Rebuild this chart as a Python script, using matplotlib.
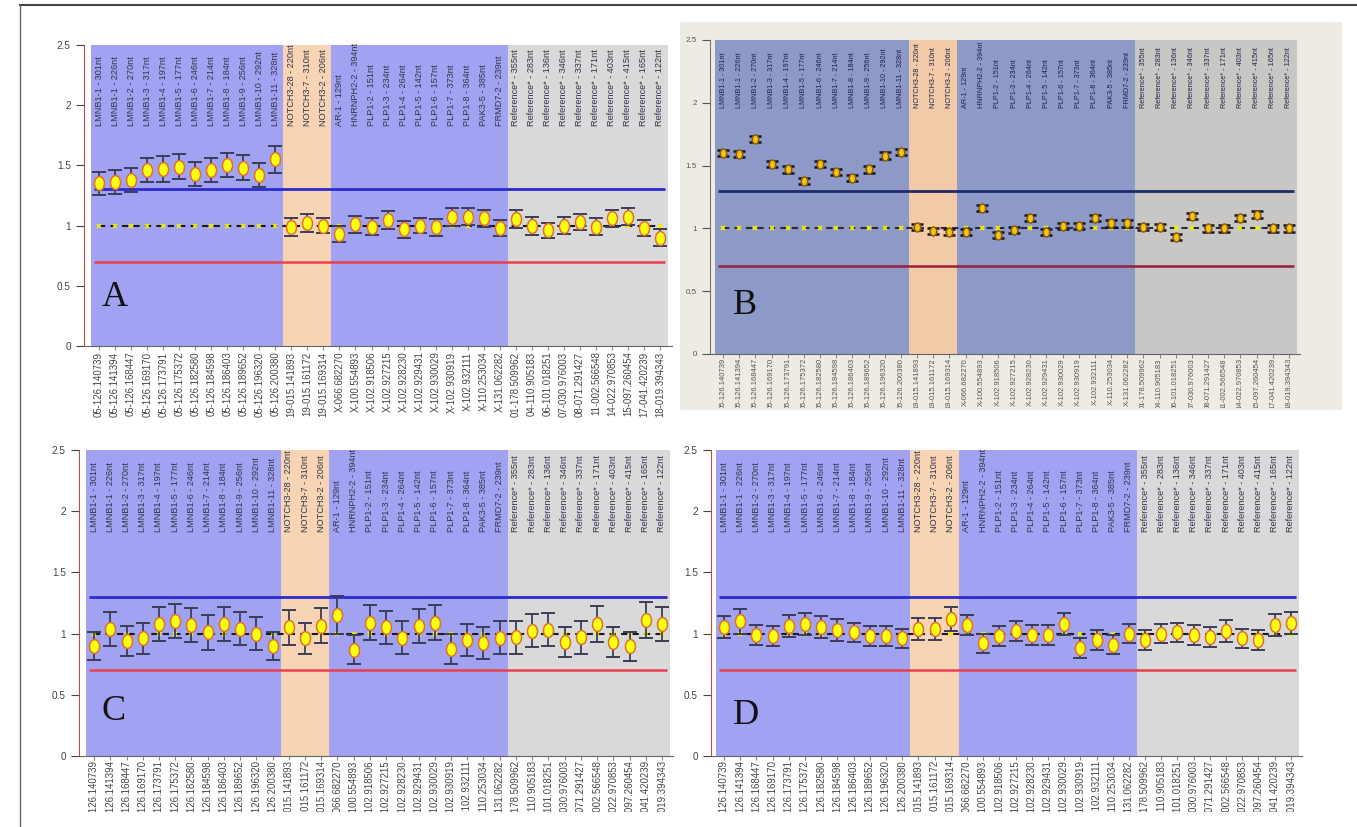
import numpy as np
import matplotlib.pyplot as plt
from matplotlib.path import Path
from matplotlib.lines import Line2D
from matplotlib.patches import Rectangle
from matplotlib.transforms import Bbox, TransformedBbox, blended_transform_factory, offset_copy

plt.rcParams['font.family'] = ['Liberation Sans', 'DejaVu Sans']

#Categories
#----------
genes = ['LMNB1-1 - 301nt', 'LMNB1-1 - 226nt', 'LMNB1-2 - 270nt', 'LMNB1-3 - 317nt',
         'LMNB1-4 - 197nt', 'LMNB1-5 - 177nt', 'LMNB1-6 - 246nt', 'LMNB1-7 - 214nt',
         'LMNB1-8 - 184nt', 'LMNB1-9 - 256nt', 'LMNB1-10 - 292nt', 'LMNB1-11 - 328nt',
         'NOTCH3-28 - 220nt', 'NOTCH3-7 - 310nt', 'NOTCH3-2 - 206nt',
         'AR-1 - 129nt', 'HNRNPH2-2 - 394nt', 'PLP1-2 - 151nt', 'PLP1-3 - 234nt',
         'PLP1-4 - 264nt', 'PLP1-5 - 142nt', 'PLP1-6 - 157nt', 'PLP1-7 - 373nt',
         'PLP1-8 - 364nt', 'PAK3-5 - 385nt', 'FRMD7-2 - 239nt',
         'Reference* - 355nt', 'Reference* - 283nt', 'Reference* - 136nt',
         'Reference* - 346nt', 'Reference* - 337nt', 'Reference* - 171nt',
         'Reference* - 403nt', 'Reference* - 415nt', 'Reference* - 165nt',
         'Reference* - 122nt']
loci = ['05-126.140739', '05-126.141394', '05-126.168447', '05-126.169170',
        '05-126.173791', '05-126.175372', '05-126.182580', '05-126.184598',
        '05-126.186403', '05-126.189652', '05-126.196320', '05-126.200380',
        '19-015.141893', '19-015.161172', '19-015.169314',
        'X-066.682270', 'X-100.554893', 'X-102.918506', 'X-102.927215',
        'X-102.928230', 'X-102.929431', 'X-102.930029', 'X-102.930919',
        'X-102.932111', 'X-110.253034', 'X-131.062282',
        '01-178.509962', '04-110.905183', '06-101.018251', '07-030.976003',
        '08-071.291427', '11-002.566548', '14-022.970853', '15-097.260454',
        '17-041.420239', '18-019.394343']
group_sizes = [12, 3, 11, 10]   # LMNB1 / NOTCH3 / X-linked / references
group_band = [0, 1, 0, 2]       # which band colour each group gets

baseline = 1.0
upper_cut = 1.3
lower_cut = 0.7
yticks = [0, 0.5, 1, 1.5, 2, 2.5]
ytick_labels = ['0', '0.5', '1', '1.5', '2', '2.5']

#Ratios
#-------------------------------
vals_a = [1.35, 1.36, 1.38, 1.46, 1.47, 1.49, 1.43, 1.46, 1.50, 1.48, 1.42, 1.55,
          0.99, 1.02, 1.00,
          0.93, 1.01, 0.99, 1.05, 0.97, 1.00, 0.985, 1.07, 1.075, 1.06, 0.98,
          1.055, 1.00, 0.96, 1.00, 1.03, 0.99, 1.06, 1.075, 0.98, 0.90]
err_a = [0.095, 0.10, 0.10, 0.10, 0.11, 0.105, 0.10, 0.10, 0.10, 0.105, 0.10, 0.11,
         0.075, 0.075, 0.065,
         0.07, 0.07, 0.07, 0.075, 0.07, 0.065, 0.07, 0.075, 0.07, 0.07, 0.07,
         0.075, 0.075, 0.065, 0.07, 0.07, 0.07, 0.07, 0.07, 0.07, 0.07]

vals_b = [1.60, 1.59, 1.71, 1.51, 1.47, 1.38, 1.51, 1.45, 1.40, 1.47, 1.58, 1.61,
          1.01, 0.98, 0.97,
          0.97, 1.16, 0.95, 0.99, 1.08, 0.97, 1.02, 1.02, 1.08, 1.04, 1.04,
          1.01, 1.01, 0.93, 1.10, 1.00, 1.00, 1.08, 1.11, 1.00, 1.00]
err_b = [0.025] * 36

vals_c = [0.90, 1.04, 0.94, 0.96, 1.08, 1.10, 1.07, 1.01, 1.08, 1.04, 1.00, 0.90,
          1.05, 0.96, 1.065,
          1.155, 0.87, 1.09, 1.05, 0.965, 1.065, 1.09, 0.875, 0.95, 0.92, 0.965,
          0.97, 1.025, 1.03, 0.93, 0.97, 1.08, 0.93, 0.895, 1.11, 1.08]
err_c = [0.115, 0.14, 0.12, 0.13, 0.14, 0.14, 0.14, 0.14, 0.14, 0.135, 0.135, 0.115,
         0.14, 0.13, 0.145,
         0.155, 0.12, 0.145, 0.135, 0.135, 0.14, 0.14, 0.12, 0.13, 0.13, 0.135,
         0.135, 0.135, 0.135, 0.125, 0.135, 0.145, 0.125, 0.115, 0.15, 0.14]

vals_d = [1.05, 1.10, 0.99, 0.98, 1.06, 1.08, 1.05, 1.03, 1.01, 0.98, 0.98, 0.96,
          1.04, 1.04, 1.12,
          1.07, 0.92, 0.98, 1.02, 0.99, 0.99, 1.08, 0.88, 0.95, 0.91, 1.00,
          0.95, 1.00, 1.01, 0.99, 0.97, 1.02, 0.96, 0.95, 1.07, 1.09]
err_d = [0.09, 0.10, 0.08, 0.08, 0.09, 0.09, 0.09, 0.09, 0.08, 0.08, 0.08, 0.08,
         0.09, 0.09, 0.10,
         0.08, 0.08, 0.08, 0.08, 0.08, 0.08, 0.09, 0.08, 0.08, 0.08, 0.08,
         0.08, 0.08, 0.08, 0.08, 0.08, 0.09, 0.08, 0.08, 0.09, 0.09]

#Styles
#------
screen = dict(bands=['#a2a2f2', '#f6d4b4', '#d9d9d9'], hi='#2b2bd0', lo='#e8404f',
              dash='#1a1a22', ecol='#3c3c58', mfc='#ffff10', mec='#e0702a', ms=10,
              cap=5, lab='#33334a', fs=6.6, tick='#444444', spine='#b05050', capw=1.4)
photo = dict(bands=['#8d99c6', '#f2caa8', '#c9c7c5'], hi='#1f2a6a', lo='#9a1f3a',
             dash='#2a2a40', ecol='#151520', mfc='#f2c414', mec='#8a5a10', ms=6.5,
             cap=4.5, lab='#1e2248', fs=5.2, tick='#555555', spine='#777777', capw=1.8)

W, H = 1357, 827
fig = plt.figure(figsize=(W / 100, H / 100), dpi=100)
fig.patch.set_facecolor('white')

# px helpers
def fx(x):
    return x / W

def fy(y):
    return 1 - y / H

# photo background for panel B
fig.add_artist(Rectangle((fx(680), fy(410)), fx(662), 388 / H, transform=fig.transFigure,
                         facecolor='#eeebe4', edgecolor='none', zorder=0))

fig.add_artist(Line2D([fx(20), 1], [fy(5), fy(5)], color='#444444', lw=1.5))
fig.add_artist(Line2D([fx(20), fx(20)], [0, fy(5)], color='#666666', lw=1.0))

circ = Path.unit_circle()
oval = Path(circ.vertices * [0.72, 1.0], circ.codes)

xs = np.arange(len(genes))
edges = np.concatenate([[0], np.cumsum(group_sizes)]) - 0.5


def panel(box, xlim, vals, errs, st, letter, letter_xy, label_y, clip_y, lab_off):
    l, t, r, b = box
    ax = fig.add_axes([fx(l), fy(b), fx(r - l), (b - t) / H])
    ax.set_facecolor('none')
    ax.set_xlim(*xlim)
    ax.set_ylim(0, 2.5)

    for k in range(len(group_sizes)):
        ax.axvspan(edges[k], edges[k + 1], color=st['bands'][group_band[k]], lw=0, zorder=1)

    ax.hlines([upper_cut], xs[0] - 0.3, xs[-1] + 0.3, color=st['hi'], lw=2.0, zorder=2)
    ax.hlines([lower_cut], xs[0] - 0.3, xs[-1] + 0.3, color=st['lo'], lw=1.8, zorder=2)
    ax.plot(xs, [baseline] * len(xs), color=st['dash'], lw=1.5, ls=(0, (3, 2.5)), zorder=2)
    ax.plot(xs, [baseline] * len(xs), ls='none', marker='x', ms=3.5, mew=1.2,
            color='#f0f000', zorder=2)

    ax.errorbar(xs, vals, yerr=errs, fmt='none', ecolor=st['ecol'], elinewidth=1.3,
                capsize=st['cap'], capthick=st['capw'], zorder=3)
    ax.plot(xs, vals, ls='none', marker=oval, ms=st['ms'], mfc=st['mfc'],
            mec=st['mec'], mew=1.1, zorder=4)

    for x, g in zip(xs, genes):
        ax.text(x, label_y, g, rotation=90, ha='center', va='bottom', fontsize=st['fs'],
                color=st['lab'], zorder=5)

    # locus labels under the axis, cut off where the screenshot ends
    clip = TransformedBbox(Bbox([[0, fy(clip_y)], [1, 1]]), fig.transFigure)
    tr = offset_copy(blended_transform_factory(ax.transData, ax.transAxes), fig=fig,
                     x=0, y=-lab_off, units='points')
    for x, s in zip(xs, loci):
        tx = fig.text(x, 0, s, transform=tr, rotation=90, ha='center', va='top',
                      fontsize=st['fs'] + 0.3, color=st['tick'])
        tx.set_clip_box(clip)
        tx.set_clip_on(True)

    ax.set_xticks(xs)
    ax.set_xticklabels([])
    ax.tick_params(axis='x', length=3, color='#888888')
    ax.set_yticks(yticks)
    ax.set_yticklabels(ytick_labels)
    ax.tick_params(axis='y', length=6, color=st['tick'], labelsize=st['fs'] + 0.6,
                   labelcolor=st['tick'])
    for side in ['top', 'right']:
        ax.spines[side].set_visible(False)
    ax.spines['left'].set_color(st['spine'])
    ax.spines['bottom'].set_color('#666666')

    fig.text(fx(letter_xy[0]), fy(letter_xy[1]), letter, ha='center', va='center',
             fontsize=26, family=['Liberation Serif', 'DejaVu Serif'], color='#111111')
    return ax


panel((84, 45, 672, 346), (-0.94, 35.75), vals_a, err_a, screen, 'A', (115, 297), 1.83, 425, 4)
panel((710, 40, 1300, 354), (-0.81, 35.69), vals_b, err_b, photo, 'B', (745, 306), 1.96, 408, 3)
panel((79, 450, 673, 756), (-0.93, 35.68), vals_c, err_c, screen, 'C', (114, 711), 1.83, 812, 3)
panel((711, 450, 1302, 756), (-0.81, 35.69), vals_d, err_d, screen, 'D', (746, 716), 1.83, 812, 3)

fig.savefig('out.png', dpi=100)
